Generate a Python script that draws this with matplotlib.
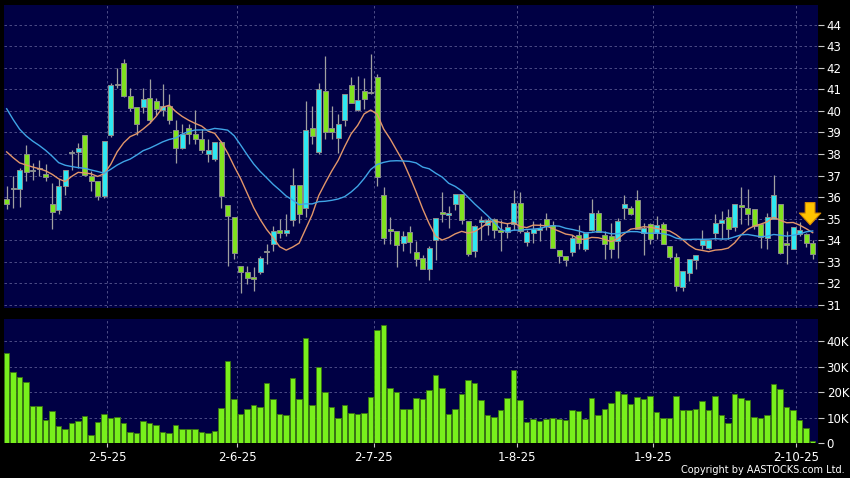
import numpy as np
import pandas as pd
import matplotlib
matplotlib.use("Agg")
import matplotlib.pyplot as plt

# daily bars (oldest first)
opens = [35.90, 36.38, 36.40, 38.02, 37.22, 37.34, 37.09, 35.70, 35.39, 36.51,
         38.03, 38.11, 38.88, 36.98, 36.75, 36.06, 38.88, 41.18, 42.23, 40.69,
         40.18, 40.18, 40.61, 40.46, 40.06, 40.24, 39.13, 38.30, 39.22, 38.91,
         38.71, 38.02, 37.76, 38.57, 35.63, 35.10, 32.82, 32.54, 32.31, 32.54,
         33.46, 33.82, 34.48, 34.33, 34.93, 36.57, 35.52, 39.22, 38.10, 40.92,
         39.19, 38.76, 39.56, 41.20, 40.02, 40.92, 40.83, 41.57, 36.10, 34.52,
         34.44, 33.88, 34.38, 33.46, 33.18, 32.68, 34.03, 35.32, 35.17, 35.69,
         36.15, 34.88, 33.49, 34.85, 34.69, 34.98, 34.46, 34.38, 34.77, 35.72,
         33.92, 34.34, 34.49, 34.98, 34.72, 33.54, 33.29, 33.46, 34.26, 33.60,
         34.49, 35.26, 34.26, 34.20, 33.97, 35.51, 35.48, 35.87, 34.32, 34.74,
         34.35, 34.74, 33.73, 33.24, 31.85, 32.50, 33.09, 33.78, 33.66, 34.35,
         34.79, 35.08, 34.62, 35.64, 35.48, 35.47, 34.74, 34.12, 34.97, 35.70,
         33.89, 33.61, 34.31, 34.31, 33.86]
highs = [36.50, 37.00, 37.35, 38.42, 37.57, 37.71, 37.52, 36.68, 36.83, 37.28,
         38.17, 38.53, 38.90, 37.22, 36.76, 38.60, 41.31, 42.00, 42.43, 41.07,
         40.20, 41.07, 41.46, 40.60, 41.26, 40.77, 39.56, 39.38, 39.38, 40.06,
         39.15, 38.68, 38.57, 38.60, 35.63, 35.10, 32.82, 32.80, 32.74, 33.28,
         33.82, 34.67, 34.98, 35.24, 37.37, 36.57, 40.46, 40.22, 41.31, 42.54,
         40.22, 39.84, 40.77, 41.57, 41.60, 41.54, 42.65, 41.69, 36.48, 35.09,
         34.44, 34.44, 34.65, 33.95, 33.33, 33.72, 35.03, 36.26, 35.57, 36.15,
         36.15, 34.88, 34.72, 35.11, 35.03, 35.03, 34.95, 34.80, 36.34, 36.22,
         34.49, 34.88, 34.80, 35.26, 34.88, 33.54, 33.29, 34.26, 34.69, 34.34,
         35.90, 35.42, 34.45, 34.79, 35.05, 36.08, 35.59, 36.33, 34.79, 34.82,
         35.12, 34.85, 33.73, 33.43, 32.57, 33.15, 33.33, 34.47, 34.01, 35.20,
         35.36, 35.43, 35.70, 36.49, 36.36, 35.47, 34.74, 35.28, 37.01, 35.70,
         34.43, 34.63, 34.85, 34.35, 34.00]
lows = [35.45, 35.50, 35.55, 36.75, 36.80, 36.98, 36.75, 34.52, 35.21, 36.10,
        37.26, 37.37, 37.00, 36.29, 35.86, 35.98, 38.79, 41.07, 40.65, 40.00,
        38.90, 39.92, 39.45, 39.80, 39.76, 39.38, 37.60, 38.22, 38.45, 38.45,
        38.06, 37.65, 37.70, 35.52, 32.82, 33.13, 31.54, 31.97, 31.66, 32.43,
        32.90, 33.51, 34.13, 34.20, 34.67, 34.82, 35.09, 38.45, 38.02, 38.68,
        38.68, 38.06, 39.30, 40.38, 39.98, 40.07, 40.77, 36.52, 33.82, 33.82,
        32.77, 33.51, 33.42, 32.80, 32.68, 32.18, 33.10, 34.83, 34.57, 35.42,
        34.77, 33.26, 33.23, 34.03, 34.26, 34.11, 33.49, 34.11, 34.49, 34.34,
        33.72, 33.88, 33.95, 34.49, 33.63, 32.95, 32.80, 33.26, 33.60, 33.50,
        34.44, 34.38, 33.12, 33.19, 33.20, 34.97, 35.16, 34.54, 33.30, 33.81,
        34.04, 33.81, 33.12, 31.65, 31.65, 32.11, 32.66, 33.58, 33.58, 34.04,
        34.04, 34.04, 34.43, 34.74, 34.69, 34.51, 33.66, 33.61, 34.97, 33.35,
        32.88, 33.58, 34.20, 33.70, 33.12]
closes = [35.70, 36.42, 37.28, 37.19, 37.26, 37.32, 36.95, 35.33, 36.52, 37.28,
          38.08, 38.30, 37.02, 36.75, 36.06, 38.60, 41.20, 41.22, 40.69, 40.15,
          39.41, 40.53, 39.56, 40.07, 40.24, 39.56, 38.30, 38.94, 38.91, 38.68,
          38.17, 38.17, 38.57, 36.06, 35.13, 33.39, 32.54, 32.25, 32.19, 33.20,
          33.50, 34.41, 34.35, 34.48, 36.57, 35.21, 39.13, 38.84, 41.00, 39.04,
          39.04, 39.41, 40.77, 40.38, 40.49, 40.53, 40.89, 36.95, 34.10, 34.45,
          33.76, 34.19, 33.92, 33.11, 32.68, 33.65, 35.03, 35.24, 35.26, 36.15,
          34.92, 33.38, 34.65, 34.92, 34.92, 34.49, 34.38, 34.62, 35.72, 34.42,
          34.38, 34.54, 34.57, 34.65, 33.63, 33.29, 33.08, 34.11, 33.88, 34.34,
          35.26, 34.38, 33.81, 33.61, 34.89, 35.70, 35.20, 34.54, 34.58, 34.07,
          34.69, 33.81, 33.24, 31.87, 32.57, 33.15, 33.33, 34.00, 34.01, 34.79,
          34.92, 34.51, 35.70, 35.53, 35.20, 34.66, 34.17, 35.08, 36.10, 33.42,
          33.78, 34.63, 34.46, 33.89, 33.35]
volume_k = [35.6, 27.9, 25.8, 24.1, 14.7, 14.5, 8.9, 12.6, 6.6, 5.4,
            7.7, 8.8, 10.7, 3.3, 8.3, 11.3, 10.0, 10.4, 7.7, 4.5,
            3.8, 8.5, 7.9, 7.2, 4.5, 3.8, 7.2, 5.5, 5.4, 5.6,
            4.5, 4.1, 4.8, 13.6, 32.1, 17.3, 11.5, 13.5, 15.1, 14.3,
            23.7, 17.2, 11.5, 11.0, 25.6, 17.4, 41.4, 14.8, 30.0, 20.2,
            14.2, 10.0, 14.9, 11.9, 11.5, 11.8, 18.0, 44.6, 46.5, 21.8,
            20.1, 13.5, 13.2, 17.7, 17.3, 21.0, 26.6, 21.6, 11.4, 13.5,
            19.4, 24.9, 23.6, 16.8, 10.9, 10.4, 13.0, 17.7, 28.7, 17.0,
            8.4, 9.4, 8.7, 9.4, 10.0, 9.3, 9.0, 13.0, 12.7, 9.4,
            17.7, 10.9, 13.2, 15.7, 20.6, 19.3, 15.2, 18.1, 17.4, 18.5,
            12.3, 9.8, 9.7, 18.5, 13.1, 12.8, 13.4, 16.4, 13.0, 18.5,
            11.1, 8.0, 19.3, 17.8, 17.0, 10.2, 9.7, 11.0, 23.1, 21.2,
            14.2, 13.1, 9.2, 5.9, 0.9]

# moving averages before the window fills
ma10_head = [38.10, 37.83, 37.59, 37.49, 37.40, 37.32, 37.22, 37.06, 36.85]
ma20_head = [40.10, 39.60, 39.15, 38.84, 38.60, 38.40, 38.17, 37.90, 37.60, 37.48,
             37.42, 37.37, 37.34, 37.26, 37.19, 37.11, 37.29, 37.49, 37.65]

month_start_idx = [16, 36, 57, 79, 100, 122]
month_labels = ["2-5-25", "2-6-25", "2-7-25", "1-8-25", "1-9-25", "2-10-25"]
price_ticks = list(range(31, 45))
vol_ticks = [0, 10, 20, 30, 40]
vol_labels = ["0", "10K", "20K", "30K", "40K"]

NAVY = "#000044"
GRID = "#585890"
UP = "#2ee8f2"
DOWN = "#80e21e"

x = np.arange(len(closes))
o = np.array(opens)
c = np.array(closes)
closes_s = pd.Series(closes)
ma10 = closes_s.rolling(10).mean().to_numpy()
ma10[:len(ma10_head)] = ma10_head
ma20 = closes_s.rolling(20).mean().to_numpy()
ma20[:len(ma20_head)] = ma20_head

fig = plt.figure(figsize=(8.5, 4.78), dpi=100, facecolor="black")
ax = fig.add_axes([0.0047, 0.3556, 0.958, 0.6339], facecolor=NAVY)
axv = fig.add_axes([0.0047, 0.0732, 0.958, 0.2594], facecolor=NAVY, sharex=ax)

gridpos = [i - 0.5 for i in month_start_idx]
dash = (0, (3, 3))

# price panel
ax.vlines(x, lows, highs, color="#a0a0a0", lw=0.9, zorder=2)
body_h = np.maximum(np.abs(c - o), 0.05)
body_b = np.minimum(o, c)
cols = [UP if cc >= oo else DOWN for oo, cc in zip(opens, closes)]
ax.bar(x, body_h, bottom=body_b, width=0.72, color=cols,
       edgecolor="#8c8c8c", linewidth=0.7, zorder=3)
ax.plot(x, ma10, color="#e2966a", lw=1.0, zorder=4)
ax.plot(x, ma20, color="#3fa4e6", lw=1.0, zorder=4)

ax.annotate("", xy=(123.6, 34.72), xytext=(123.6, 35.75),
            arrowprops=dict(arrowstyle="simple,head_length=0.6,head_width=1.1,tail_width=0.5",
                            fc="#ffc400", ec="#d88a00", lw=0.8, mutation_scale=14,
                            shrinkA=0, shrinkB=0), zorder=6)

ax.set_xlim(-0.41, 124.86)
ax.set_ylim(30.86, 44.91)
ax.set_yticks(price_ticks)
ax.set_xticks(gridpos)
ax.yaxis.tick_right()
ax.tick_params(axis="y", colors="#c8c8c8", labelcolor="white", labelsize=8.5,
               length=4, width=0.8, pad=2)
ax.tick_params(axis="x", length=0, labelbottom=False)
ax.grid(True, color=GRID, ls=dash, lw=0.6, zorder=0)
ax.set_axisbelow(True)

# volume panel
axv.bar(x, volume_k, width=0.86, color="#78f01c", edgecolor="#3a7412",
        linewidth=0.6, zorder=3)
axv.set_ylim(0, 48.8)
axv.set_yticks(vol_ticks)
axv.set_yticklabels(vol_labels)
axv.yaxis.tick_right()
axv.set_xticks(gridpos)
axv.set_xticklabels(month_labels)
axv.tick_params(axis="y", colors="#c8c8c8", labelcolor="white", labelsize=8.5,
                length=4, width=0.8, pad=2)
axv.tick_params(axis="x", colors="#c8c8c8", labelcolor="white", labelsize=8.5,
                length=3, width=0.8, pad=3)
axv.grid(True, color=GRID, ls=dash, lw=0.6, zorder=0)
axv.set_axisbelow(True)

for a in (ax, axv):
    for s in a.spines.values():
        s.set_visible(False)

fig.text(0.994, 0.006, "Copyright by AASTOCKS.com Ltd.", ha="right", va="bottom",
         color="white", fontsize=7)

fig.savefig("out.png", dpi=100, facecolor="black")
